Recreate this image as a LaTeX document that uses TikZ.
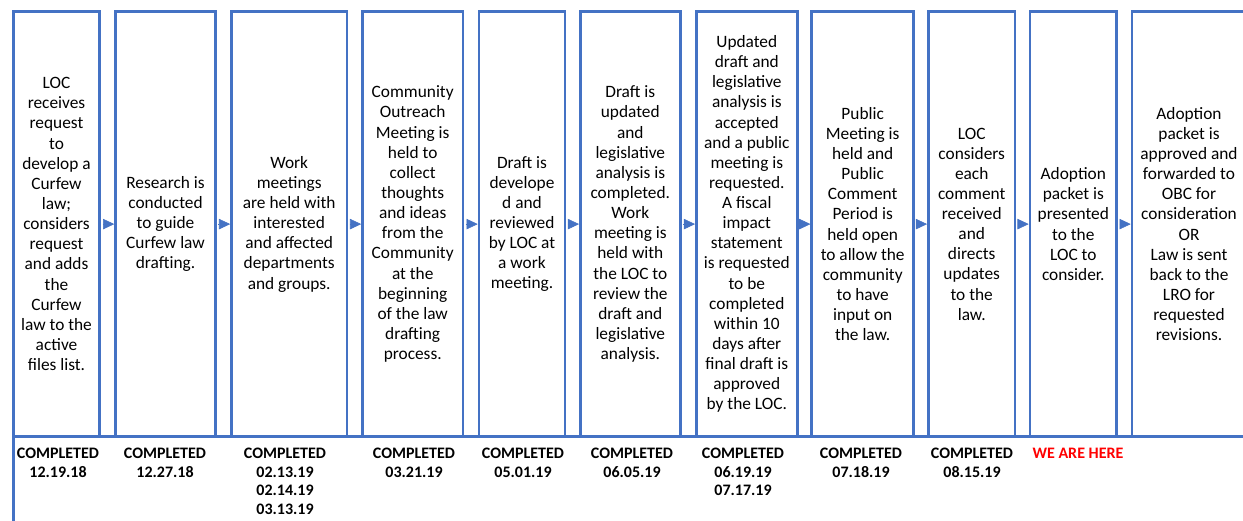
\documentclass[tikz,border=0pt]{standalone}
\usepackage{fontspec}
\setmainfont{Carlito}
\usetikzlibrary{arrows.meta}

\definecolor{boxblue}{HTML}{4472C4}
\definecolor{herered}{HTML}{FF0000}

\tikzset{every picture/.style={line width=0.75pt}}
\tikzset{
  procbox/.style={draw=boxblue, line width=1.9pt, rectangle, align=center,
    minimum height=318.6pt, minimum width=#1*0.75pt, inner sep=1pt,
    font=\fontsize{13}{15.1}\selectfont},
  flowarrow/.style={draw=boxblue, line width=0.4pt, shorten <=1.2pt,
    -{Triangle[length=8.4pt,width=7.8pt]}},
  donelbl/.style={anchor=north, align=center, inner sep=0pt,
    font=\bfseries\fontsize{12}{13.8}\selectfont},
  tableline/.style={draw=boxblue, line width=2.6pt}
}

\begin{document}
\begin{tikzpicture}[x=0.75pt,y=0.75pt,yscale=-1,xscale=1]
\path[use as bounding box, fill=white] (0,0) rectangle (1243,521);

%Table: border under the steps
\draw [tableline] (12,436.5) -- (1243,436.5) ;
%Table: left border of the date row
\draw [tableline, line width=2.2pt] (13.8,436.5) -- (13.8,521) ;

%Flowchart: Process [id:step1]
\node [procbox=86, line width=2.6pt] (s1) at (56.5,224.1) {LOC\\receives\\request\\to\\develop a\\Curfew\\law;\\considers\\request\\and adds\\the\\Curfew\\law to the\\active\\files list.};
%Flowchart: Process [id:step2]
\node [procbox=100] (s2) at (165.5,224.1) {Research is\\conducted\\to guide\\Curfew law\\drafting.};
%Flowchart: Process [id:step3]
\node [procbox=115.5] (s3) at (289.2,224.1) {Work\\meetings\\are held with\\interested\\and affected\\departments\\and groups.};
%Flowchart: Process [id:step4]
\node [procbox=100.5] (s4) at (412.7,224.1) {Community\\Outreach\\Meeting is\\held to\\collect\\thoughts\\and ideas\\from the\\Community\\at the\\beginning\\of the law\\drafting\\process.};
%Flowchart: Process [id:step5]
\node [procbox=86] (s5) at (522,224.1) {Draft is\\develope\\d and\\reviewed\\by LOC at\\a work\\meeting.};
%Flowchart: Process [id:step6]
\node [procbox=100] (s6) at (630.3,224.1) {Draft is\\updated\\and\\legislative\\analysis is\\completed.\\Work\\meeting is\\held with\\the LOC to\\review the\\draft and\\legislative\\analysis.};
%Flowchart: Process [id:step7]
\node [procbox=101] (s7) at (746.8,224.1) {Updated\\draft and\\legislative\\analysis is\\accepted\\and a public\\meeting is\\requested.\\A fiscal\\impact\\statement\\is requested\\to be\\completed\\within 10\\days after\\final draft is\\approved\\by the LOC.};
%Flowchart: Process [id:step8]
\node [procbox=102] (s8) at (862.7,224.1) {Public\\Meeting is\\held and\\Public\\Comment\\Period is\\held open\\to allow the\\community\\to have\\input on\\the law.};
%Flowchart: Process [id:step9]
\node [procbox=86.7] (s9) at (971.7,224.1) {LOC\\considers\\each\\comment\\received\\and\\directs\\updates\\to the\\law.};
%Flowchart: Process [id:step10]
\node [procbox=86.7] (s10) at (1073.3,224.1) {Adoption\\packet is\\presented\\to the\\LOC to\\consider.};
%Flowchart: Process [id:step11]
\node [procbox=114] (s11) at (1189,224.1) {Adoption\\packet is\\approved and\\forwarded to\\OBC for\\consideration\\OR\\Law is sent\\back to the\\LRO for\\requested\\revisions.};

%Right Arrow
\draw [flowarrow] (s1.east) -- (s2.west) ;
%Right Arrow
\draw [flowarrow] (s2.east) -- (s3.west) ;
%Right Arrow
\draw [flowarrow] (s3.east) -- (s4.west) ;
%Right Arrow
\draw [flowarrow] (s4.east) -- (s5.west) ;
%Right Arrow
\draw [flowarrow] (s5.east) -- (s6.west) ;
%Right Arrow
\draw [flowarrow] (s6.east) -- (s7.west) ;
%Right Arrow
\draw [flowarrow] (s7.east) -- (s8.west) ;
%Right Arrow
\draw [flowarrow] (s8.east) -- (s9.west) ;
%Right Arrow
\draw [flowarrow] (s9.east) -- (s10.west) ;
%Right Arrow
\draw [flowarrow] (s10.east) -- (s11.west) ;

% Text Node
\node [donelbl] (d1) at (58,448) {COMPLETED\\12.19.18};
% Text Node
\node [donelbl] (d2) at (165,448) {COMPLETED\\12.27.18};
% Text Node
\node [donelbl] (d3) at (285,448) {COMPLETED\\02.13.19\\02.14.19\\03.13.19};
% Text Node
\node [donelbl] (d4) at (414,448) {COMPLETED\\03.21.19};
% Text Node
\node [donelbl] (d5) at (523,448) {COMPLETED\\05.01.19};
% Text Node
\node [donelbl] (d6) at (632,448) {COMPLETED\\06.05.19};
% Text Node
\node [donelbl] (d7) at (743,448) {COMPLETED\\06.19.19\\07.17.19};
% Text Node
\node [donelbl] (d8) at (861,448) {COMPLETED\\07.18.19};
% Text Node
\node [donelbl] (d9) at (972,448) {COMPLETED\\08.15.19};
% Text Node
\node [donelbl, text=herered] (d10) at (1078,448) {WE ARE HERE};

\end{tikzpicture}
\end{document}
